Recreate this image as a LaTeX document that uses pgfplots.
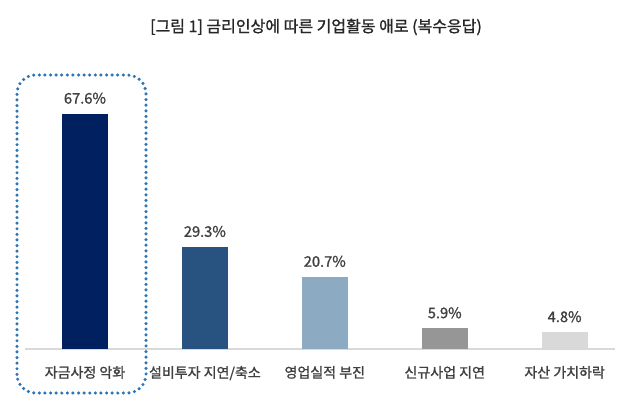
\documentclass[border=0pt]{standalone}
\usepackage{pgfplots}
\pgfplotsset{compat=1.18}
\usepackage{fontspec}
\setmainfont{Noto Sans CJK KR}
\newfontfamily\medfont{Noto Sans CJK KR}[FakeBold=1.2]
\definecolor{c1}{RGB}{0,32,96}
\definecolor{c2}{RGB}{40,82,128}
\definecolor{c3}{RGB}{140,170,194}
\definecolor{c4}{RGB}{150,150,150}
\definecolor{c5}{RGB}{217,217,217}
\definecolor{txt}{RGB}{64,64,64}
\definecolor{ttl}{RGB}{38,38,38}
\definecolor{frame}{RGB}{46,117,182}
\begin{document}
\begin{tikzpicture}[x=0.75pt,y=0.75pt]
\useasboundingbox[fill=white] (0,0) rectangle (630,411);
% title
\node[text=ttl, font=\medfont\fontsize{12}{14}\selectfont] at (316,384) {[그림 1] 금리인상에 따른 기업활동 애로 (복수응답)};
\begin{axis}[
    at={(18.75pt,46.5pt)}, anchor=south west,
    scale only axis,
    width=442.5pt, height=216.6pt,
    xmin=-0.5, xmax=4.42,
    ymin=0, ymax=83,
    axis x line*=bottom,
    hide y axis,
    x axis line style={draw=c5, line width=0.8pt, -},
    xtick={0,1,2,3,4},
    xticklabels={자금사정 악화, 설비투자 지연/축소, 영업실적 부진, 신규사업 지연, 자산 가치하락},
    xtick style={draw=none},
    xticklabel style={text=txt, font=\medfont\fontsize{10.5}{12}\selectfont, yshift=-5pt},
    ybar, bar width=34.5pt, bar shift=0pt,
    nodes near coords={\pgfmathprintnumber[fixed,fixed zerofill,precision=1]{\pgfplotspointmeta}\%},
    every node near coord/.append style={text=txt, font=\medfont\fontsize{11}{13}\selectfont, anchor=south, yshift=4pt},
    /pgf/number format/assume math mode=true,
    clip=false,
]
\addplot[fill=c1, draw=none] coordinates {(0,67.6)};
\addplot[fill=c2, draw=none] coordinates {(1,29.3)};
\addplot[fill=c3, draw=none] coordinates {(2,20.7)};
\addplot[fill=c4, draw=none] coordinates {(3,5.9)};
\addplot[fill=c5, draw=none] coordinates {(4,4.8)};
\end{axis}
% dotted highlight frame
\draw[frame, line width=2.6pt, line cap=round, dash pattern=on 0pt off 4.2pt, rounded corners=14pt] (17,18) rectangle (146,336);
\end{tikzpicture}
\end{document}
